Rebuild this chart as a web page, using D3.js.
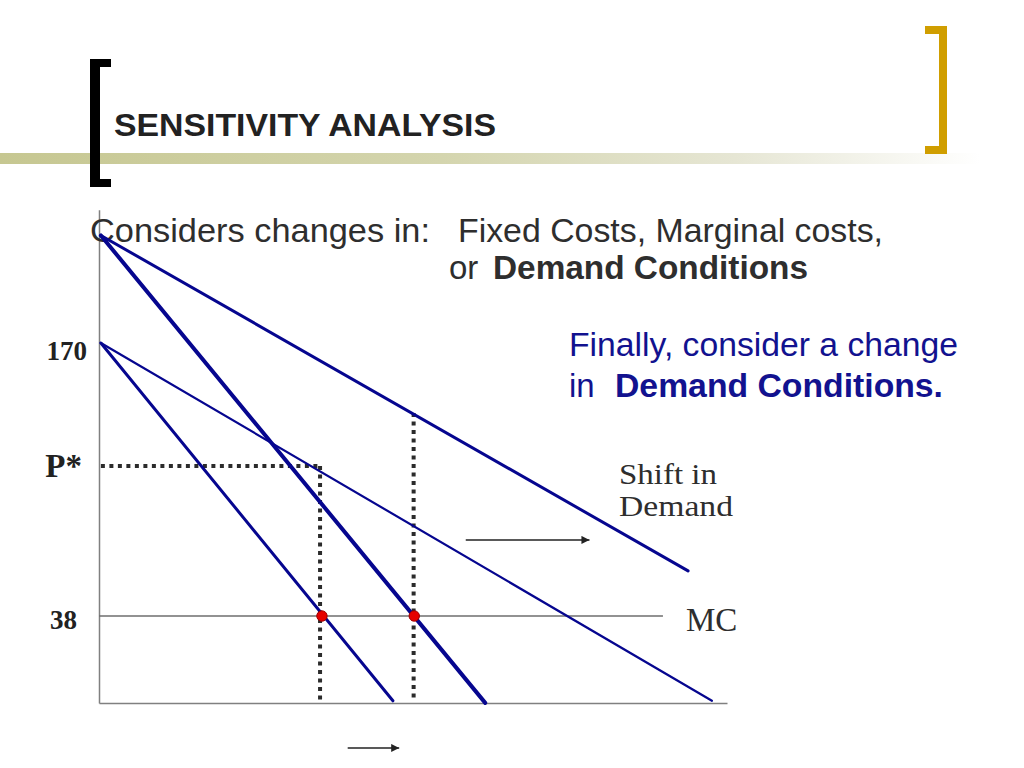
<!DOCTYPE html>
<html>
<head>
<meta charset="utf-8">
<script src="https://cdn.jsdelivr.net/npm/d3@7"></script>
<style>
  html, body { margin: 0; padding: 0; background: #fff; }
  svg { display: block; }
</style>
</head>
<body>
<svg id="chart" width="1024" height="768"></svg>
<script>
// ---------- data ----------
const lineNames  = ["Original MR", "Original D", "New MR", "New D"];
const lineStartQ = [0.3, 0.3, 0.3, 0.3];
const lineStartP = [170, 170, 222, 222];
const lineEndQ   = [46.8, 97.6, 61.5, 93.8];
const lineEndP   = [-3, -3, -4, 59.8];

const mcPrice = 38;
const mcEndQ = 89.8;

const equilibriumQ = [35.5, 50.2];      // red dots on MC
const dottedQ      = [35.2, 50.1];      // vertical dotted lines
const dottedTopP   = [110.5, 136.2];
const dottedBottomP = -2.6;
const pStar = 110.5;

const priceLabelValues = [170, 110.5, 38];
const priceLabelTexts  = ["170", "P*", "38"];

const axisMinP = -4.1, axisMaxP = 234.4, axisMaxQ = 100;

const demandArrowQ = [58.4, 78.1], demandArrowP = 74.8;
const qtyArrowQ = [39.6, 47.8], qtyArrowP = -25.8;

// ---------- scales ----------
const svg = d3.select("#chart");
const x = d3.scaleLinear().domain([0, 100]).range([99, 727]);
const y = d3.scaleLinear().domain([38, 170]).range([616, 343]);

// ---------- slide decoration ----------
const defs = svg.append("defs");
const grad = defs.append("linearGradient").attr("id", "bar").attr("x1", 0).attr("x2", 1).attr("y1", 0).attr("y2", 0);
grad.append("stop").attr("offset", "0%").attr("stop-color", "rgb(198,199,145)");
grad.append("stop").attr("offset", "45%").attr("stop-color", "rgb(212,213,174)");
grad.append("stop").attr("offset", "75%").attr("stop-color", "rgb(230,230,212)");
grad.append("stop").attr("offset", "100%").attr("stop-color", "rgb(255,255,255)");
svg.append("rect").attr("x", 0).attr("y", 153).attr("width", 980).attr("height", 11).attr("fill", "url(#bar)");

// left black bracket
const lb = svg.append("g").attr("fill", "#000");
lb.append("rect").attr("x", 90).attr("y", 59).attr("width", 10).attr("height", 128);
lb.append("rect").attr("x", 90).attr("y", 59).attr("width", 21).attr("height", 8);
lb.append("rect").attr("x", 90).attr("y", 179).attr("width", 21).attr("height", 8);
// right gold bracket
const rb = svg.append("g").attr("fill", "#d09e00");
rb.append("rect").attr("x", 939).attr("y", 26).attr("width", 8).attr("height", 128);
rb.append("rect").attr("x", 925).attr("y", 26).attr("width", 22).attr("height", 8);
rb.append("rect").attr("x", 925).attr("y", 146).attr("width", 22).attr("height", 8);

// title
svg.append("text").attr("x", 114).attr("y", 136)
  .attr("font-family", "Liberation Sans, Arial, sans-serif").attr("font-weight", "bold")
  .attr("font-size", 32).attr("fill", "#222").attr("textLength", 382).attr("lengthAdjust", "spacingAndGlyphs")
  .text("SENSITIVITY ANALYSIS");

// ---------- axes ----------
const yAxisScale = d3.scaleLinear().domain([axisMinP, axisMaxP]).range([y(axisMinP), y(axisMaxP)]);
const xAxisScale = d3.scaleLinear().domain([0, axisMaxQ]).range([x(0), x(axisMaxQ)]);
const axisG = svg.append("g");
axisG.append("g").attr("transform", `translate(${x(0)},0)`)
  .call(d3.axisLeft(yAxisScale).tickValues([]).tickSizeOuter(0));
axisG.append("g").attr("transform", `translate(0,${y(axisMinP)})`)
  .call(d3.axisBottom(xAxisScale).tickValues([]).tickSizeOuter(0));
axisG.selectAll(".domain").attr("stroke", "#808080").attr("stroke-width", 1.5);

// MC line
svg.append("line")
  .attr("x1", x(0)).attr("x2", x(mcEndQ)).attr("y1", y(mcPrice)).attr("y2", y(mcPrice))
  .attr("stroke", "#6e6e6e").attr("stroke-width", 1.5);

// text block
const body = "Liberation Sans, Arial, sans-serif";
svg.append("text").attr("x", 90).attr("y", 242).attr("font-family", body).attr("font-size", 33)
  .attr("fill", "#2e2e2e").attr("textLength", 340).attr("lengthAdjust", "spacingAndGlyphs")
  .text("Considers changes in:");
svg.append("text").attr("x", 458).attr("y", 242).attr("font-family", body).attr("font-size", 33)
  .attr("fill", "#2e2e2e").attr("textLength", 425).attr("lengthAdjust", "spacingAndGlyphs")
  .text("Fixed Costs, Marginal costs,");
svg.append("text").attr("x", 449).attr("y", 279).attr("font-family", body).attr("font-size", 33)
  .attr("fill", "#2e2e2e").text("or");
svg.append("text").attr("x", 493).attr("y", 279).attr("font-family", body).attr("font-size", 33)
  .attr("font-weight", "bold").attr("fill", "#2e2e2e").attr("textLength", 315).attr("lengthAdjust", "spacingAndGlyphs")
  .text("Demand Conditions");

const blue = "#12128f";
svg.append("text").attr("x", 569).attr("y", 356).attr("font-family", body).attr("font-size", 33)
  .attr("fill", blue).attr("textLength", 389).attr("lengthAdjust", "spacingAndGlyphs")
  .text("Finally, consider a change");
svg.append("text").attr("x", 569).attr("y", 397).attr("font-family", body).attr("font-size", 33)
  .attr("fill", blue).text("in");
svg.append("text").attr("x", 615).attr("y", 397).attr("font-family", body).attr("font-size", 33)
  .attr("font-weight", "bold").attr("fill", blue).attr("textLength", 328).attr("lengthAdjust", "spacingAndGlyphs")
  .text("Demand Conditions.");

// ---------- dotted guide lines ----------
const dot = { stroke: "#2b2b2b", w: 4, dash: "4,4.5" };
svg.append("line")
  .attr("x1", x(0.3)).attr("x2", x(dottedQ[0])).attr("y1", y(pStar)).attr("y2", y(pStar))
  .attr("stroke", dot.stroke).attr("stroke-width", dot.w).attr("stroke-dasharray", dot.dash);
svg.selectAll("line.vdot").data(dottedQ).enter().append("line").attr("class", "vdot")
  .attr("x1", d => x(d)).attr("x2", d => x(d))
  .attr("y1", (d, i) => y(dottedTopP[i])).attr("y2", y(dottedBottomP))
  .attr("stroke", dot.stroke).attr("stroke-width", dot.w).attr("stroke-dasharray", dot.dash);

// ---------- demand / MR lines ----------
const widths = [3, 2.2, 4, 3];
svg.selectAll("line.curve").data(lineNames).enter().append("line").attr("class", "curve")
  .attr("x1", (d, i) => x(lineStartQ[i])).attr("y1", (d, i) => y(lineStartP[i]))
  .attr("x2", (d, i) => x(lineEndQ[i])).attr("y2", (d, i) => y(lineEndP[i]))
  .attr("stroke", "#06068f").attr("stroke-width", (d, i) => widths[i]).attr("stroke-linecap", "round");

// equilibrium dots
svg.selectAll("circle.eq").data(equilibriumQ).enter().append("circle").attr("class", "eq")
  .attr("cx", d => x(d)).attr("cy", y(mcPrice)).attr("r", 5.2)
  .attr("fill", "#e60000").attr("stroke", "#a00000").attr("stroke-width", 1);

// ---------- arrows ----------
defs.append("marker").attr("id", "ah").attr("viewBox", "0 0 10 10").attr("refX", 10).attr("refY", 5)
  .attr("markerWidth", 12).attr("markerHeight", 8).attr("markerUnits", "userSpaceOnUse").attr("orient", "auto")
  .append("path").attr("d", "M0,0 L10,5 L0,10 Z").attr("fill", "#222");
svg.append("line").attr("x1", x(demandArrowQ[0])).attr("x2", x(demandArrowQ[1]))
  .attr("y1", y(demandArrowP)).attr("y2", y(demandArrowP))
  .attr("stroke", "#222").attr("stroke-width", 1.5).attr("marker-end", "url(#ah)");
svg.append("line").attr("x1", x(qtyArrowQ[0])).attr("x2", x(qtyArrowQ[1]))
  .attr("y1", y(qtyArrowP)).attr("y2", y(qtyArrowP))
  .attr("stroke", "#222").attr("stroke-width", 1.5).attr("marker-end", "url(#ah)");

// ---------- serif labels ----------
const serif = "Liberation Serif, Times New Roman, serif";
svg.append("text").attr("x", 619).attr("y", 484).attr("font-family", serif).attr("font-size", 28.5)
  .attr("fill", "#2e2e2e").attr("textLength", 98).attr("lengthAdjust", "spacingAndGlyphs").text("Shift in");
svg.append("text").attr("x", 619).attr("y", 516).attr("font-family", serif).attr("font-size", 28.5)
  .attr("fill", "#2e2e2e").attr("textLength", 114).attr("lengthAdjust", "spacingAndGlyphs").text("Demand");
svg.append("text").attr("x", 686).attr("y", y(mcPrice) + 15).attr("font-family", serif).attr("font-size", 33)
  .attr("fill", "#2e2e2e").text("MC");

const labelRight = [87, 82, 77];
const labelSize = [27, 33, 27];
const labelDy = [17, 11, 13];
svg.selectAll("text.plab").data(priceLabelTexts).enter().append("text").attr("class", "plab")
  .attr("x", (d, i) => labelRight[i]).attr("y", (d, i) => y(priceLabelValues[i]) + labelDy[i])
  .attr("text-anchor", "end").attr("font-family", serif).attr("font-weight", "bold")
  .attr("font-size", (d, i) => labelSize[i]).attr("fill", "#222").text(d => d);
</script>
</body>
</html>
